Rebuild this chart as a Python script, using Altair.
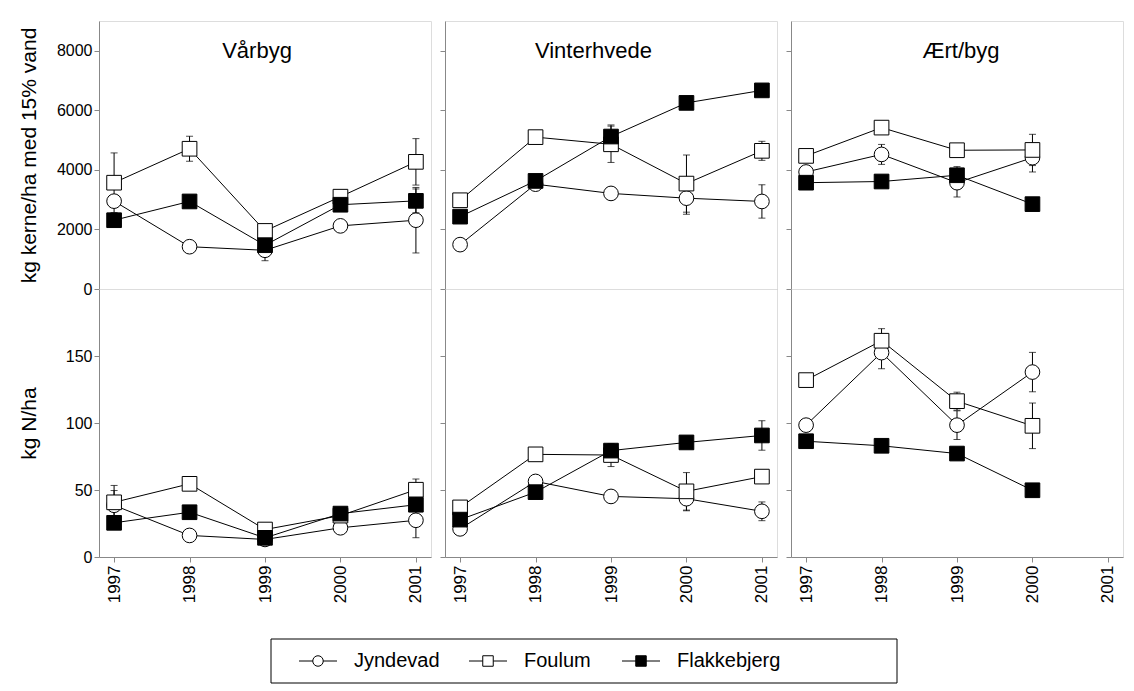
import altair as alt
import pandas as pd

FONT = "Liberation Sans"

years = [1997, 1998, 1999, 2000, 2001]
sites = ["Jyndevad", "Foulum", "Flakkebjerg"]
crops = ["Vårbyg", "Vinterhvede", "Ært/byg"]

# ---- grain yield, kg kerne/ha med 15% vand (mean, error) ----
yld_vaarbyg_jyndevad = [2950, 1420, 1300, 2120, 2310]
yld_vaarbyg_foulum = [3570, 4710, 1950, 3100, 4270]
yld_vaarbyg_flakkebjerg = [2310, 2940, 1470, 2830, 2960]
yld_err_vaarbyg_jyndevad = [0, 0, 350, 0, 1100]
yld_err_vaarbyg_foulum = [1000, 420, 0, 0, 780]
yld_err_vaarbyg_flakkebjerg = [0, 0, 0, 0, 400]

yld_vinterhvede_jyndevad = [1490, 3520, 3210, 3050, 2940]
yld_vinterhvede_foulum = [2980, 5100, 4860, 3540, 4640]
yld_vinterhvede_flakkebjerg = [2430, 3630, 5120, 6250, 6670]
yld_err_vinterhvede_jyndevad = [0, 0, 0, 540, 560]
yld_err_vinterhvede_foulum = [0, 100, 610, 960, 320]
yld_err_vinterhvede_flakkebjerg = [0, 0, 390, 0, 0]

yld_aertbyg_jyndevad = [3930, 4520, 3570, 4410, None]
yld_aertbyg_foulum = [4470, 5420, 4660, 4670, None]
yld_aertbyg_flakkebjerg = [3570, 3610, 3820, 2850, None]
yld_err_aertbyg_jyndevad = [0, 335, 480, 480, 0]
yld_err_aertbyg_foulum = [0, 0, 0, 525, 0]
yld_err_aertbyg_flakkebjerg = [0, 0, 290, 0, 0]

# ---- N uptake, kg N/ha (mean, error) ----
n_vaarbyg_jyndevad = [38.6, 16.1, 13.1, 21.8, 27.4]
n_vaarbyg_foulum = [40.8, 54.6, 20.5, 30.9, 50.2]
n_vaarbyg_flakkebjerg = [25.5, 33.4, 14.3, 32.4, 39.0]
n_err_vaarbyg_jyndevad = [11, 0, 0, 0, 13]
n_err_vaarbyg_foulum = [12.6, 0, 0, 0, 8]
n_err_vaarbyg_flakkebjerg = [0, 0, 0, 0, 0]

n_vinterhvede_jyndevad = [21.0, 56.4, 45.2, 43.5, 34.1]
n_vinterhvede_foulum = [37.0, 76.6, 76.1, 49.0, 60.0]
n_vinterhvede_flakkebjerg = [27.9, 48.4, 79.4, 85.5, 90.7]
n_err_vinterhvede_jyndevad = [0, 0, 0, 9, 7]
n_err_vinterhvede_foulum = [0, 0, 8.6, 14, 0]
n_err_vinterhvede_flakkebjerg = [0, 0, 0, 0, 11]

n_aertbyg_jyndevad = [98.4, 152.5, 98.4, 138.0, None]
n_aertbyg_foulum = [132.0, 161.4, 116.3, 97.9, None]
n_aertbyg_flakkebjerg = [86.4, 83.0, 77.2, 49.8, None]
n_err_aertbyg_jyndevad = [0, 12, 10.7, 14.7, 0]
n_err_aertbyg_foulum = [0, 9, 6.7, 17, 0]
n_err_aertbyg_flakkebjerg = [0, 0, 0, 0, 0]

yield_ticks = [0, 2000, 4000, 6000, 8000]
n_ticks = [0, 50, 100, 150]

# ---- layout constants ----
W, H = 332, 268
title_frac = [0.476, 0.447, 0.512]
LOFF, LW, LH = 172, 626, 44
legend_sym_x = [47, 217, 370]


def panel_df(vals, errs):
    rows = []
    for s, v_list, e_list in zip(sites, vals, errs):
        for yr, v, e in zip(years, v_list, e_list):
            if v is None:
                continue
            rows.append(dict(site=s, year=yr, value=v, lo=v - e, hi=v + e, err=e))
    return pd.DataFrame(rows)


def make_panel(df, ydomain, yvalues, ytitle, first, bottom, title=None, tfrac=0.5):
    xscale = alt.Scale(domain=[1996.8, 2001.2], nice=False, zero=False)
    yscale = alt.Scale(domain=ydomain, nice=False, zero=False)
    if bottom:
        xaxis = alt.Axis(values=years, format="d", labelAngle=-90, title=None,
                         labelFontSize=17, tickSize=5, labelPadding=3, grid=False)
    else:
        xaxis = alt.Axis(values=years, labels=False, ticks=False, title=None, grid=False)
    if first:
        yaxis = alt.Axis(values=yvalues, title=ytitle, labelFontSize=16, titleFontSize=21,
                         titleFontWeight="normal", minExtent=50, titlePadding=10,
                         tickSize=5, grid=False, format="d")
    else:
        yaxis = alt.Axis(values=yvalues, labels=False, title=None, tickSize=5,
                         grid=False, minExtent=0)
    X = alt.X("year:Q", scale=xscale, axis=xaxis)

    def Y(f):
        return alt.Y(f, scale=yscale, axis=yaxis)

    base = alt.Chart(df)
    lines = base.mark_line(color="black", strokeWidth=1).encode(
        x=X, y=Y("value:Q"), detail="site:N")
    eb = alt.Chart(df[df.err > 0])
    rules = eb.mark_rule(color="black", strokeWidth=1).encode(x=X, y=Y("lo:Q"), y2="hi:Q")
    cap_lo = eb.mark_tick(orient="horizontal", size=7, thickness=1, color="black").encode(
        x=X, y=Y("lo:Q"))
    cap_hi = eb.mark_tick(orient="horizontal", size=7, thickness=1, color="black").encode(
        x=X, y=Y("hi:Q"))
    points = base.mark_point(filled=True, size=215, stroke="black", strokeWidth=1,
                             opacity=1).encode(
        x=X, y=Y("value:Q"),
        shape=alt.Shape("site:N", scale=alt.Scale(domain=sites, range=["circle", "square", "square"]), legend=None),
        fill=alt.Fill("site:N", scale=alt.Scale(domain=sites, range=["white", "white", "black"]), legend=None),
    )
    layers = [lines, rules, cap_lo, cap_hi, points]
    if title is not None:
        txt = alt.Chart(pd.DataFrame({"t": [title]})).mark_text(
            font=FONT, fontSize=22, align="center", baseline="middle", color="black"
        ).encode(x=alt.value(tfrac * W), y=alt.value(30), text="t:N")
        layers.append(txt)
    return alt.layer(*layers).properties(width=W, height=H)


yld_vals = {
    "Vårbyg": ([yld_vaarbyg_jyndevad, yld_vaarbyg_foulum, yld_vaarbyg_flakkebjerg],
               [yld_err_vaarbyg_jyndevad, yld_err_vaarbyg_foulum, yld_err_vaarbyg_flakkebjerg]),
    "Vinterhvede": ([yld_vinterhvede_jyndevad, yld_vinterhvede_foulum, yld_vinterhvede_flakkebjerg],
                    [yld_err_vinterhvede_jyndevad, yld_err_vinterhvede_foulum, yld_err_vinterhvede_flakkebjerg]),
    "Ært/byg": ([yld_aertbyg_jyndevad, yld_aertbyg_foulum, yld_aertbyg_flakkebjerg],
                [yld_err_aertbyg_jyndevad, yld_err_aertbyg_foulum, yld_err_aertbyg_flakkebjerg]),
}
n_vals = {
    "Vårbyg": ([n_vaarbyg_jyndevad, n_vaarbyg_foulum, n_vaarbyg_flakkebjerg],
               [n_err_vaarbyg_jyndevad, n_err_vaarbyg_foulum, n_err_vaarbyg_flakkebjerg]),
    "Vinterhvede": ([n_vinterhvede_jyndevad, n_vinterhvede_foulum, n_vinterhvede_flakkebjerg],
                    [n_err_vinterhvede_jyndevad, n_err_vinterhvede_foulum, n_err_vinterhvede_flakkebjerg]),
    "Ært/byg": ([n_aertbyg_jyndevad, n_aertbyg_foulum, n_aertbyg_flakkebjerg],
                [n_err_aertbyg_jyndevad, n_err_aertbyg_foulum, n_err_aertbyg_flakkebjerg]),
}

cells = []
for i, c in enumerate(crops):
    v, e = yld_vals[c]
    cells.append(make_panel(panel_df(v, e), [0, 9000], yield_ticks,
                            "kg kerne/ha med 15% vand", i == 0, False, c, title_frac[i]))
for i, c in enumerate(crops):
    v, e = n_vals[c]
    cells.append(make_panel(panel_df(v, e), [0, 200], n_ticks,
                            "kg N/ha", i == 0, True))

grid = alt.concat(*cells, columns=3, spacing={"row": 0, "column": 14}, bounds="flush")

# ---- custom legend (line + marker + label) in a framed box ----
leg_df = pd.DataFrame({
    "site": sites,
    "xc": [LOFF + x for x in legend_sym_x],
    "x0": [LOFF + x - 19 for x in legend_sym_x],
    "x1": [LOFF + x + 19 for x in legend_sym_x],
    "xt": [LOFF + x + 36 for x in legend_sym_x],
    "yy": [0.5] * 3,
})
LTOT = LOFF + LW + 2
lx = alt.Scale(domain=[0, LTOT], nice=False, zero=False)
ly = alt.Scale(domain=[0, 1], nice=False)
lbase = alt.Chart(leg_df)
l_box = alt.Chart(pd.DataFrame({"b": [0]})).mark_rect(
    fill="white", stroke="black", strokeWidth=1
).encode(x=alt.value(LOFF), x2=alt.value(LOFF + LW), y=alt.value(0), y2=alt.value(LH))
l_rule = lbase.mark_rule(color="black", strokeWidth=1).encode(
    x=alt.X("x0:Q", scale=lx, axis=None), x2="x1:Q", y=alt.Y("yy:Q", scale=ly, axis=None))
l_pt = lbase.mark_point(filled=True, size=110, stroke="black", strokeWidth=1, opacity=1).encode(
    x=alt.X("xc:Q", scale=lx, axis=None), y=alt.Y("yy:Q", scale=ly, axis=None),
    shape=alt.Shape("site:N", scale=alt.Scale(domain=sites, range=["circle", "square", "square"]), legend=None),
    fill=alt.Fill("site:N", scale=alt.Scale(domain=sites, range=["white", "white", "black"]), legend=None),
)
l_txt = lbase.mark_text(font=FONT, fontSize=20, align="left", baseline="middle", color="black").encode(
    x=alt.X("xt:Q", scale=lx, axis=None), y=alt.Y("yy:Q", scale=ly, axis=None), text="site:N")
legend = alt.layer(l_box, l_rule, l_pt, l_txt).properties(
    width=LTOT, height=LH, view=alt.ViewBackground(stroke="transparent"))

chart = alt.vconcat(grid, legend, spacing=34).properties(
    padding={"left": 9, "top": 12, "right": 0, "bottom": 0}
).configure_view(
    stroke="#222", strokeWidth=1
).configure_axis(
    domainColor="#222", tickColor="#222", labelColor="black", titleColor="black",
    labelFont=FONT, titleFont=FONT, domainWidth=1, tickWidth=1
).configure(background="white")

chart.save("out.html", embed_options={"renderer": "svg", "actions": False})
